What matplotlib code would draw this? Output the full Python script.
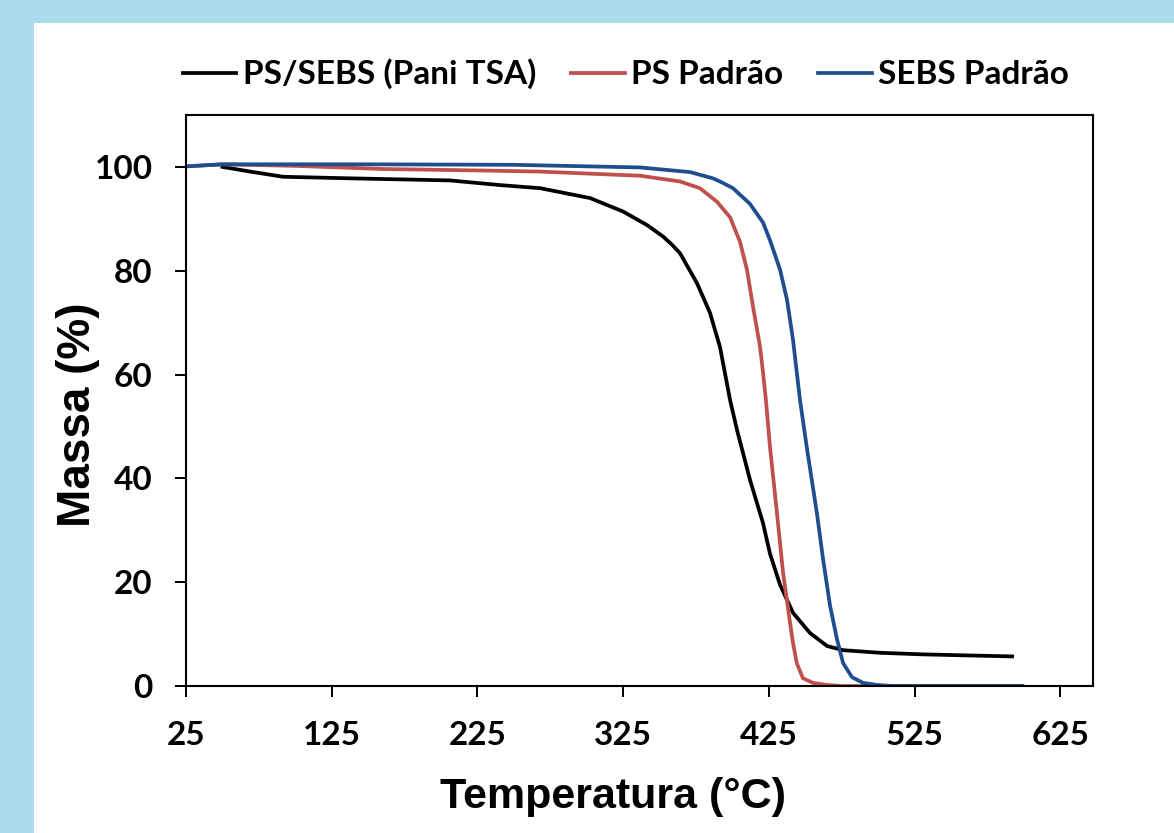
import matplotlib.pyplot as plt
from matplotlib.patches import Rectangle

# TGA curves (temperature in C, mass in %)
temp_black = [50, 69, 91.6, 137.6, 206, 240.5, 268, 302.3, 325, 341.4, 352.4, 358.6, 364,
              375.7, 384.6, 391.5, 398.4, 403.2, 412.1, 421, 425.8, 432.7, 441.6, 453.3, 465,
              476, 501.3, 530, 560, 592]
mass_black = [100, 99.1, 98.1, 97.8, 97.4, 96.5, 95.9, 94.0, 91.4, 88.8, 86.6, 85.0, 83.4,
              77.6, 71.9, 65.3, 55.1, 49.3, 39.7, 31.4, 25.5, 19.5, 14.1, 10.2, 7.7,
              6.9, 6.4, 6.1, 5.9, 5.7]

temp_red = [25, 50, 100, 160, 229, 268, 336.6, 364, 377.7, 389.4, 398.4, 405.2, 410, 414.2,
            419, 421, 423, 425.8, 430.6, 434.7, 439.4, 441.6, 444.2, 448.4, 455.3, 465, 475,
            530, 599]
mass_red = [100.1, 100.5, 100.2, 99.6, 99.3, 99.1, 98.3, 97.2, 95.9, 93.3, 90.3, 85.6, 80.2,
            73.0, 65.3, 60.5, 55.1, 46.1, 33.3, 22.0, 12.5, 8.3, 4.4, 1.5, 0.6, 0.2, 0,
            0, 0]

temp_blue = [25, 50, 150, 250, 336.6, 371, 386.7, 393.6, 400.4, 412, 421, 425.8, 432.7,
             437.5, 441.6, 446.4, 451, 458, 462.2, 467, 471.8, 476, 482.1, 489.7, 499.3,
             510, 550, 599]
mass_blue = [100.1, 100.5, 100.5, 100.4, 99.9, 99.0, 97.8, 96.9, 95.9, 92.9, 89.3, 85.9, 80.2,
             74.4, 66.7, 55.1, 46.1, 33.3, 24.5, 15.5, 9.0, 4.4, 1.7, 0.6, 0.2,
             0, 0, 0]

labels = ['PS/SEBS (Pani TSA)', 'PS Padrão', 'SEBS Padrão']
colors = ['black', '#c0504d', '#1f4e8f']
xticks = [25, 125, 225, 325, 425, 525, 625]
yticks = [0, 20, 40, 60, 80, 100]

fig = plt.figure(figsize=(11.74, 8.33), dpi=100)
fig.patch.set_facecolor('#abdcec')
fig.patches.append(Rectangle((34 / 1174, 0), 1, (833 - 23) / 833, transform=fig.transFigure,
                             facecolor='white', edgecolor='none', zorder=-1))

ax = fig.add_axes([186 / 1174, 1 - 686 / 833, (1093 - 186) / 1174, (686 - 115) / 833])
ax.plot(temp_black, mass_black, color=colors[0], lw=2.7, label=labels[0], solid_joinstyle='round')
ax.plot(temp_red, mass_red, color=colors[1], lw=2.7, label=labels[1], solid_joinstyle='round')
ax.plot(temp_blue, mass_blue, color=colors[2], lw=2.7, label=labels[2], solid_joinstyle='round')

ax.set_xlim(25, 647.5)
ax.set_ylim(0, 110)
ax.set_xticks(xticks)
ax.set_yticks(yticks)
ax.tick_params(direction='out', length=8, width=1.4, labelsize=24)
ax.tick_params(axis='x', pad=17)
ax.tick_params(axis='y', pad=16)
for lab in ax.get_xticklabels() + ax.get_yticklabels():
    lab.set_fontweight('bold')
    lab.set_family('Lato')
for sp in ax.spines.values():
    sp.set_linewidth(1.5)

ax.set_xlabel('Temperatura (°C)', fontsize=31, fontweight='bold', family='Liberation Sans')
ax.set_ylabel('Massa (%)', fontsize=33, fontweight='bold', family='Liberation Sans')
ax.xaxis.set_label_coords(0.471, -0.159)
ax.yaxis.set_label_coords(-0.0948, 0.4746)

fig.legend(loc='center', bbox_to_anchor=(626 / 1174, 1 - 74 / 833), ncol=3, frameon=False,
           prop={'family': 'Lato', 'weight': 'bold', 'size': 24}, handlelength=1.6,
           handletextpad=0.2, columnspacing=1.05)

fig.savefig('out.png', dpi=100, facecolor=fig.get_facecolor())
